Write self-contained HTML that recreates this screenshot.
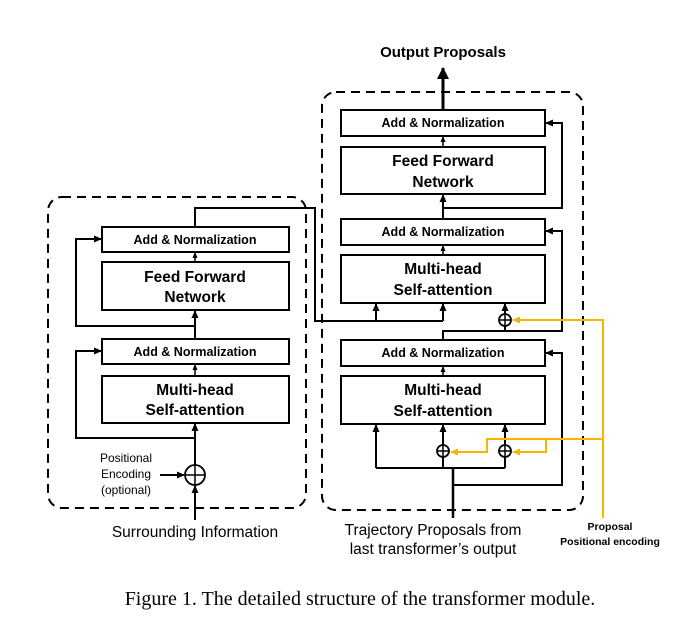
<!DOCTYPE html>
<html><head><style>
body{margin:0;background:#fff;}
svg text{font-family:"Liberation Sans",Arial,sans-serif;}
</style></head><body>
<svg width="690" height="637" viewBox="0 0 690 637" xmlns="http://www.w3.org/2000/svg">
<defs>
<marker id="a" markerWidth="8" markerHeight="8" refX="7" refY="4" orient="auto" markerUnits="userSpaceOnUse"><path d="M0,0.5 L8,4 L0,7.5 z" fill="#000"/></marker>
<marker id="s" markerWidth="6" markerHeight="6" refX="5" refY="3" orient="auto" markerUnits="userSpaceOnUse"><path d="M0,0.5 L6,3 L0,5.5 z" fill="#000"/></marker>
<marker id="y" markerWidth="8" markerHeight="8" refX="7" refY="4" orient="auto" markerUnits="userSpaceOnUse"><path d="M0,0.5 L8,4 L0,7.5 z" fill="#f7b500"/></marker>
<marker id="b" markerWidth="12" markerHeight="12" refX="11" refY="6" orient="auto" markerUnits="userSpaceOnUse"><path d="M0,0 L12,6 L0,12 z" fill="#000"/></marker>
</defs>
<g fill="none" stroke="#000" stroke-width="2" stroke-dasharray="9,6">
<rect x="48" y="197" width="258" height="311" rx="14"/>
<rect x="322" y="92" width="261" height="418" rx="14"/>
</g>
<g fill="#fff" stroke="#000" stroke-width="2">
<rect x="102" y="227" width="187" height="25"/>
<rect x="102" y="262" width="187" height="48"/>
<rect x="102" y="339" width="187" height="25"/>
<rect x="102" y="376" width="187" height="47"/>
<rect x="341" y="110" width="204" height="26"/>
<rect x="341" y="147" width="204" height="47"/>
<rect x="341" y="219" width="204" height="26"/>
<rect x="341" y="255" width="204" height="48"/>
<rect x="341" y="340" width="204" height="26"/>
<rect x="341" y="376" width="204" height="48"/>
</g>
<g font-weight="bold" text-anchor="middle" fill="#000">
<text x="195" y="244" font-size="12.5">Add &amp; Normalization</text>
<text x="195" y="282" font-size="15.5">Feed Forward</text>
<text x="195" y="302" font-size="15.5">Network</text>
<text x="195" y="356" font-size="12.5">Add &amp; Normalization</text>
<text x="195" y="395" font-size="15.5">Multi-head</text>
<text x="195" y="415" font-size="15.5">Self-attention</text>
<text x="443" y="127" font-size="12.5">Add &amp; Normalization</text>
<text x="443" y="166" font-size="15.5">Feed Forward</text>
<text x="443" y="187" font-size="15.5">Network</text>
<text x="443" y="236" font-size="12.5">Add &amp; Normalization</text>
<text x="443" y="274" font-size="15.5">Multi-head</text>
<text x="443" y="295" font-size="15.5">Self-attention</text>
<text x="443" y="357" font-size="12.5">Add &amp; Normalization</text>
<text x="443" y="395" font-size="15.5">Multi-head</text>
<text x="443" y="416" font-size="15.5">Self-attention</text>
<text x="443" y="57" font-size="15">Output Proposals</text>
<text x="610" y="530" font-size="10.5">Proposal</text>
<text x="610" y="545" font-size="10.5">Positional encoding</text>
</g>
<g text-anchor="middle" fill="#000">
<text x="195" y="537" font-size="15.5">Surrounding Information</text>
<text x="433" y="535" font-size="15.5">Trajectory Proposals from</text>
<text x="433" y="554" font-size="15.5">last transformer’s output</text>
<text x="126" y="462" font-size="12">Positional</text>
<text x="126" y="478" font-size="12">Encoding</text>
<text x="126" y="494" font-size="12">(optional)</text>
<text x="360" y="605" font-size="20" style="font-family:'Liberation Serif',serif">Figure 1. The detailed structure of the transformer module.</text>
</g>
<g fill="none" stroke="#000" stroke-width="2">
<path d="M195,520 L195,486" marker-end="url(#a)"/>
<path d="M160,475 L184,475" marker-end="url(#a)"/>
<path d="M195,465 L195,424" marker-end="url(#a)"/>
<path d="M195,438 L76,438 L76,351 L101,351" marker-end="url(#a)"/>
<path d="M195,376 L195,365" marker-end="url(#s)" stroke-width="1.5"/>
<path d="M195,339 L195,311" marker-end="url(#a)"/>
<path d="M195,326 L76,326 L76,239 L101,239" marker-end="url(#a)"/>
<path d="M195,262 L195,253" marker-end="url(#s)" stroke-width="1.5"/>
<path d="M195,227 L195,208 L315,208 L315,321 L443,321"/>
<path d="M376,321 L376,304" marker-end="url(#a)"/>
<path d="M443,321 L443,304" marker-end="url(#a)"/>
<path d="M453,518 L453,468" stroke-width="2.5"/>
<path d="M376,468 L505,468"/>
<path d="M376,468 L376,425" marker-end="url(#a)"/>
<path d="M443,468 L443,425" marker-end="url(#a)"/>
<path d="M505,468 L505,425" marker-end="url(#a)"/>
<path d="M453,485 L562,485 L562,353 L546,353" marker-end="url(#a)"/>
<path d="M443,376 L443,367" marker-end="url(#s)" stroke-width="1.5"/>
<path d="M443,340 L443,331 L562,331 L562,231 L546,231" marker-end="url(#a)"/>
<path d="M505,331 L505,304" marker-end="url(#a)"/>
<path d="M443,255 L443,246" marker-end="url(#s)" stroke-width="1.5"/>
<path d="M443,219 L443,195" marker-end="url(#a)"/>
<path d="M443,208 L562,208 L562,123 L546,123" marker-end="url(#a)"/>
<path d="M443,147 L443,137" marker-end="url(#s)" stroke-width="1.5"/>
<path d="M443,110 L443,68" stroke-width="3" marker-end="url(#b)"/>
</g>
<g fill="#fff" stroke="#000" stroke-width="1.8">
<circle cx="195" cy="475" r="10"/>
<circle cx="443" cy="451" r="6"/>
<circle cx="505" cy="451" r="6"/>
<circle cx="505" cy="320" r="6"/>
</g>
<g stroke="#000" stroke-width="1.5">
<path d="M185,475 H205 M195,465 V485"/>
<path d="M437,451 H449 M443,445 V457"/>
<path d="M499,451 H511 M505,445 V457"/>
<path d="M499,320 H511 M505,314 V326"/>
</g>
<g fill="none" stroke="#f7b500" stroke-width="2">
<path d="M603,518 L603,320 L513,320" marker-end="url(#y)"/>
<path d="M603,439 L487,439 L487,452 L451,452" marker-end="url(#y)"/>
<path d="M546,439 L546,452 L513,452" marker-end="url(#y)"/>
</g>
</svg>
</body></html>
